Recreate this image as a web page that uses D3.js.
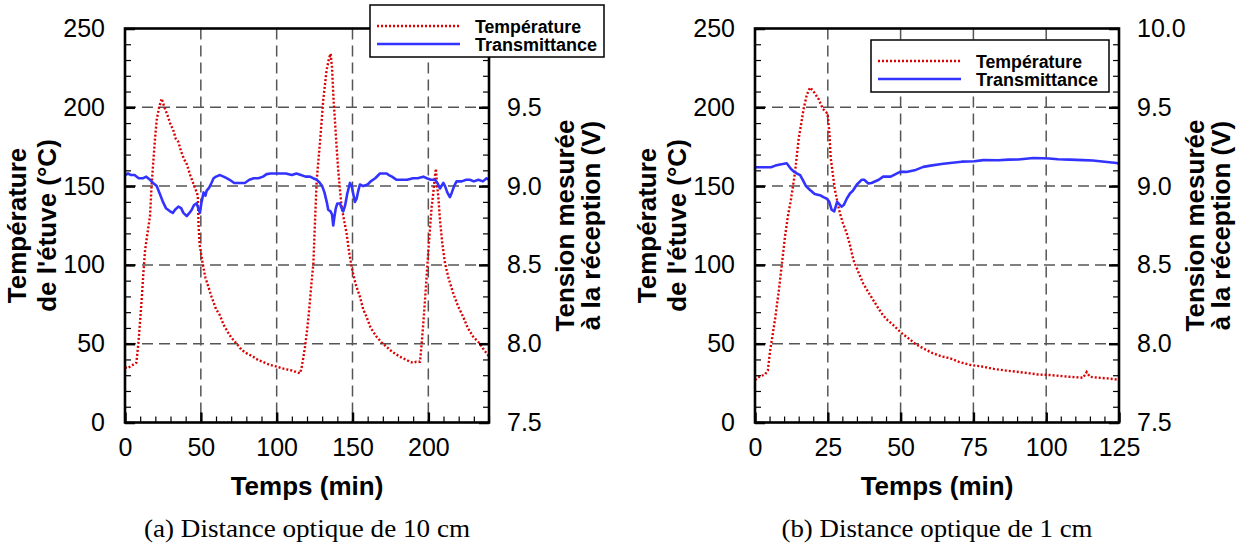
<!DOCTYPE html>
<html>
<head>
<meta charset="utf-8">
<script src="https://cdn.jsdelivr.net/npm/d3@7"></script>
<style>
  html, body { margin: 0; padding: 0; background: #fff; }
  svg { display: block; }
</style>
</head>
<body>
<svg id="chart" width="1244" height="547"></svg>
<script>
// ---------------- DATA ----------------
// Panel (a): distance optique 10 cm
const timeTempA = [0,2,4,6,7.5,8.8,10,11,12,13.2,14.8,16.5,17.5,18.7,19.8,20.9,22.5,24.2,26,28,29.7,32,33.5,35.2,37,39,40.7,43,45,46.5,48,48.5,49.2,50.5,51.6,53,55,57,60,62.6,65,68,70,73.6,77,80,84.6,88,92,95.6,100,103,106.6,110,113,115.4,116.5,117.6,118.7,119.8,121,122,123,124.2,125.3,126.4,128.5,130.7,132.9,134.5,135.6,136.5,137.5,138.4,139.5,140.6,141.7,142.8,144.5,146.1,147.8,149.4,152,154.9,157,159.3,162,165.9,169,172.5,176,181.3,185,188,190,192,194.5,195.6,196.7,197.8,198.9,200,201.1,202.2,203.2,204.2,205,205.8,206.6,207.7,209.3,211,213.5,216.4,219.5,223,226,229.6,232,234,236,238.4,240];
const tempA = [35,34.5,36,37,38,50,65,78,93,109,120,131,150,166,180,192,200,205.5,200,195,190,185,180,178,172,167,164,157,151.7,148,144,125,113,105,99,92,86,80,72,68,62,57,54,50,46,44,41.7,39.5,38,36.5,35.5,34.5,33.7,33,32,31.2,35,41.4,48,56.5,67,77.7,89,101,128,153.8,177,204.5,223.5,231,234,225,205,192,175,160,148,137,128,120,108,98.8,88,79.8,72,67,60,54.4,51,48,45,41.7,40,38.5,37.9,38.5,38.5,50,63,77.7,93,109,123,137,145,155,161,150,143,128,113,101,91,82,74,67,60,54.4,52,50,47,43.9,42];
const timeVoltA = [0,2,4,6.3,9,12,14,16.5,18.5,20.9,23,25,27,29.7,31.5,33,35.2,37,38.5,40.7,42.5,44,45.5,47.2,48.3,49.4,50.5,51.8,53,53.8,55.5,57,58.4,60,62.6,65,67,69,72,75.8,79,82,85,88,91,93.4,96,100,102.2,106,110,113,116,119,122,124,126.5,128.5,130,131.5,133,134,135.5,136.5,137.3,138,139,140,141.7,142.8,143.9,145.2,146.5,148.3,149.5,150.5,151.6,152.7,153.8,154.9,157,160,162,165,168.1,170.4,172.5,174,176,179.1,182,186,190,193,196.7,199,201.7,204.4,206,207.7,209.9,211,212.5,214.2,215.5,217,218.6,222,225,227.4,230,233,236,238.4,240];
const voltA = [9.07,9.08,9.07,9.07,9.05,9.05,9.06,9.04,9.02,9.0,8.95,8.90,8.86,8.84,8.83,8.85,8.87,8.86,8.83,8.81,8.83,8.85,8.88,8.89,8.86,8.83,8.90,8.96,8.94,8.97,8.99,9.02,9.05,9.06,9.07,9.06,9.05,9.04,9.02,9.02,9.02,9.04,9.05,9.05,9.06,9.076,9.08,9.08,9.08,9.08,9.07,9.08,9.07,9.06,9.06,9.05,9.04,9.02,9.0,8.96,8.90,8.85,8.84,8.82,8.75,8.80,8.86,8.89,8.89,8.86,8.84,8.88,8.95,9.02,9.0,8.95,8.90,8.92,8.97,9.01,9.0,9.01,9.03,9.05,9.08,9.08,9.08,9.07,9.06,9.04,9.04,9.04,9.05,9.05,9.06,9.05,9.04,9.04,9.02,8.985,9.02,9.0,8.96,8.93,8.96,9.0,9.03,9.03,9.04,9.04,9.03,9.04,9.03,9.05,9.04];

// Panel (b): distance optique 1 cm
const timeTempB = [0,1.5,3.4,4.4,5.15,6,7,8.2,9.2,10.3,11.3,12.3,13.7,15,16.7,17.8,18.9,19.7,20.5,21.9,23.3,24.9,25.5,26,27.4,28.5,29.2,30.1,31.5,32.7,33.8,35.6,37.2,38.5,40.6,42.5,44,45.5,47.5,50.4,53,55,57.8,61,64,67,70,74,78.4,82,86,89.9,94,97,101.3,105,108,112.7,113.9,115,118,121,124.2,125];
const tempB = [27,29,30.5,33,45,55,67,84,100,118,131,141,158,180,199,208,212.5,211,209,205,199,196,185,168,148,138,132.6,127,120,112,103,95,88,84,77.7,72,68,65,61.8,56.6,53,50,47,44,42,40.7,38.5,36.5,35.4,34,33,32.2,31.3,30.5,30.1,29.5,29,28.4,32,29,28.4,28,27.3,27.5];
const timeVoltB = [0,2,4,5.5,7,8.2,9.5,10.9,12.3,13.5,14.4,15.5,16.4,17.5,18.9,20.5,22.6,23.5,24.7,25.5,26.3,27.2,28.2,29.7,30.5,31.5,32.6,33.6,35,36.6,37.5,38.9,40,42.5,44,46.6,49.8,52,54.8,57.8,60.3,64,67,71,75.3,78.4,83.6,87,90.4,95.6,98.6,101,104,108,112.7,116,120,124.2,125];
const voltB = [9.12,9.12,9.12,9.12,9.13,9.136,9.14,9.145,9.11,9.09,9.08,9.07,9.04,9.0,8.975,8.95,8.94,8.93,8.92,8.9,8.85,8.84,8.90,8.87,8.88,8.92,8.953,8.97,9.01,9.04,9.04,9.017,9.02,9.04,9.06,9.06,9.09,9.09,9.10,9.122,9.13,9.14,9.147,9.155,9.158,9.165,9.164,9.168,9.169,9.178,9.177,9.175,9.17,9.168,9.165,9.162,9.155,9.147,9.14];

// Tick values / labels
const xTicksA = [0,50,100,150,200];
const xTicksB = [0,25,50,75,100,125];
const tempTicks = [0,50,100,150,200,250];
const voltTicks = [7.5,8.0,8.5,9.0,9.5,10.0];
const voltLabelsA = ["7.5","8.0","8.5","9.0","9.5",""];   // 10.0 hidden by legend in (a)
const voltLabelsB = ["7.5","8.0","8.5","9.0","9.5","10.0"];
const legendLabels = ["Température","Transmittance"];
const xTitle = "Temps (min)";
const yLeftTitle = ["Température","de l'étuve (°C)"];
const yRightTitle = ["Tension mesurée","à la réception (V)"];
const captions = ["(a)  Distance optique de 10 cm","(b)  Distance optique de 1 cm"];

// ---------------- DRAW ----------------
const svg = d3.select("#chart");
const SANS = "'Liberation Sans', Arial, Helvetica, sans-serif";
const SERIF = "'Liberation Serif', 'Times New Roman', serif";
const RED = "#dd0000", BLUE = "#3333ff", GRID = "#555";

function panel(cfg) {
  const {x0, x1, y0, y1, xmax, xTicks, xMinor, timeT, temp, timeV, volt, voltLabels, legend, caption, capLen, id} = cfg;
  const x = d3.scaleLinear().domain([0, xmax]).range([x0, x1]);
  const yT = d3.scaleLinear().domain([0, 250]).range([y1, y0]);
  const yV = d3.scaleLinear().domain([7.5, 10]).range([y1, y0]);
  const g = svg.append("g");

  g.append("clipPath").attr("id", "clip" + id)
    .append("rect").attr("x", x0).attr("y", y0).attr("width", x1 - x0).attr("height", y1 - y0);

  // grid
  const grid = g.append("g").attr("stroke", GRID).attr("stroke-width", 1.5).attr("stroke-dasharray", "11,6");
  grid.selectAll("line.gx").data(xTicks.filter(d => d > 0 && d < xmax)).join("line")
    .attr("x1", d => x(d)).attr("x2", d => x(d)).attr("y1", y0).attr("y2", y1);
  grid.selectAll("line.gy").data(tempTicks.filter(d => d > 0 && d < 250)).join("line")
    .attr("class", "gy")
    .attr("x1", x0).attr("x2", x1).attr("y1", d => yT(d)).attr("y2", d => yT(d));

  // data
  const dataG = g.append("g").attr("clip-path", `url(#clip${id})`);
  const tPts = timeT.map((t, i) => [t, temp[i]]);
  const vPts = timeV.map((t, i) => [t, volt[i]]);
  dataG.append("path").datum(tPts)
    .attr("fill", "none").attr("stroke", RED).attr("stroke-width", 2.4).attr("stroke-dasharray", "2,2")
    .attr("d", d3.line().x(d => x(d[0])).y(d => yT(d[1])));
  dataG.append("path").datum(vPts)
    .attr("fill", "none").attr("stroke", BLUE).attr("stroke-width", 2.6).attr("stroke-linejoin", "round")
    .attr("d", d3.line().x(d => x(d[0])).y(d => yV(d[1])));

  // minor ticks
  const minorX = d3.range(0, xmax + 0.001, xMinor).filter(d => !xTicks.includes(d));
  const minorY = d3.range(0, 250.001, 10).filter(d => d % 50 !== 0);
  const styleAxis = sel => { sel.select(".domain").remove(); sel.selectAll("line").attr("stroke", "#000"); };
  g.append("g").attr("transform", `translate(0,${y1})`)
    .call(d3.axisBottom(x).tickValues(minorX).tickSize(-6).tickFormat(""))
    .call(styleAxis).selectAll("line").attr("stroke-width", 1.2);
  g.append("g").attr("transform", `translate(${x0},0)`)
    .call(d3.axisLeft(yT).tickValues(minorY).tickSize(-6).tickFormat(""))
    .call(styleAxis).selectAll("line").attr("stroke-width", 1.2);
  g.append("g").attr("transform", `translate(${x1},0)`)
    .call(d3.axisRight(yT).tickValues(minorY).tickSize(-6).tickFormat(""))
    .call(styleAxis).selectAll("line").attr("stroke-width", 1.2);

  // major ticks + labels
  const fontTick = sel => sel.selectAll("text").attr("font-family", SANS).attr("font-size", 25).attr("fill", "#000");
  const ax = g.append("g").attr("transform", `translate(0,${y1})`)
    .call(d3.axisBottom(x).tickValues(xTicks).tickSizeInner(-10).tickSizeOuter(0).tickPadding(16).tickFormat(d3.format("d")))
    .call(styleAxis).call(fontTick);
  ax.selectAll("line").attr("stroke-width", 2.5);
  const al = g.append("g").attr("transform", `translate(${x0},0)`)
    .call(d3.axisLeft(yT).tickValues(tempTicks).tickSizeInner(-10).tickSizeOuter(0).tickPadding(20).tickFormat(d3.format("d")))
    .call(styleAxis).call(fontTick);
  al.selectAll("line").attr("stroke-width", 2.5);
  const ar = g.append("g").attr("transform", `translate(${x1},0)`)
    .call(d3.axisRight(yV).tickValues(voltTicks).tickSizeInner(-10).tickSizeOuter(0).tickPadding(18)
      .tickFormat((d, i) => voltLabels[i]))
    .call(styleAxis).call(fontTick);
  ar.selectAll("line").attr("stroke-width", 2.5);

  // frame
  g.append("rect").attr("x", x0).attr("y", y0).attr("width", x1 - x0).attr("height", y1 - y0)
    .attr("fill", "none").attr("stroke", "#000").attr("stroke-width", 2.6);

  // titles
  const cx = (x0 + x1) / 2, cy = (y0 + y1) / 2;
  g.append("text").attr("x", cx).attr("y", 495).attr("text-anchor", "middle")
    .attr("font-family", SANS).attr("font-weight", "bold").attr("font-size", 26).text(xTitle);
  [[x0 - 99, yLeftTitle[0]], [x0 - 69, yLeftTitle[1]], [x1 + 85, yRightTitle[0]], [x1 + 111, yRightTitle[1]]]
    .forEach(([bx, t]) => {
      g.append("text").attr("transform", `translate(${bx},${cy}) rotate(-90)`).attr("text-anchor", "middle")
        .attr("font-family", SANS).attr("font-weight", "bold").attr("font-size", 26).text(t);
    });

  // legend
  const L = legend;
  g.append("rect").attr("x", L.x).attr("y", L.y).attr("width", L.w).attr("height", L.h)
    .attr("fill", "#fff").attr("stroke", "#000").attr("stroke-width", 1.5);
  const rows = [{c: RED, dash: "2,2", w: 2.4}, {c: BLUE, dash: null, w: 2.6}];
  rows.forEach((r, i) => {
    const ly = L.y + 21 + i * 18;
    g.append("line").attr("x1", L.x + 7).attr("x2", L.x + 90).attr("y1", ly).attr("y2", ly)
      .attr("stroke", r.c).attr("stroke-width", r.w).attr("stroke-dasharray", r.dash);
    g.append("text").attr("x", L.x + 105).attr("y", ly + 6.5)
      .attr("font-family", SANS).attr("font-weight", "bold").attr("font-size", 18)
      .attr("textLength", i === 0 ? 106 : 122).attr("lengthAdjust", "spacingAndGlyphs")
      .text(legendLabels[i]);
  });

  // caption
  g.append("text").attr("x", cx).attr("y", 537).attr("text-anchor", "middle")
    .attr("font-family", SERIF).attr("font-size", 26)
    .attr("textLength", capLen).attr("lengthAdjust", "spacingAndGlyphs").text(caption);
}

panel({id: "a", x0: 125, x1: 489, y0: 28.5, y1: 422.5, xmax: 240, xTicks: xTicksA, xMinor: 10,
  timeT: timeTempA, temp: tempA, timeV: timeVoltA, volt: voltA, voltLabels: voltLabelsA,
  legend: {x: 370, y: 5, w: 234, h: 52}, caption: captions[0], capLen: 326});
panel({id: "b", x0: 755, x1: 1119, y0: 28.5, y1: 422.5, xmax: 125, xTicks: xTicksB, xMinor: 5,
  timeT: timeTempB, temp: tempB, timeV: timeVoltB, volt: voltB, voltLabels: voltLabelsB,
  legend: {x: 871, y: 40, w: 238, h: 52}, caption: captions[1], capLen: 311});
</script>
</body>
</html>
